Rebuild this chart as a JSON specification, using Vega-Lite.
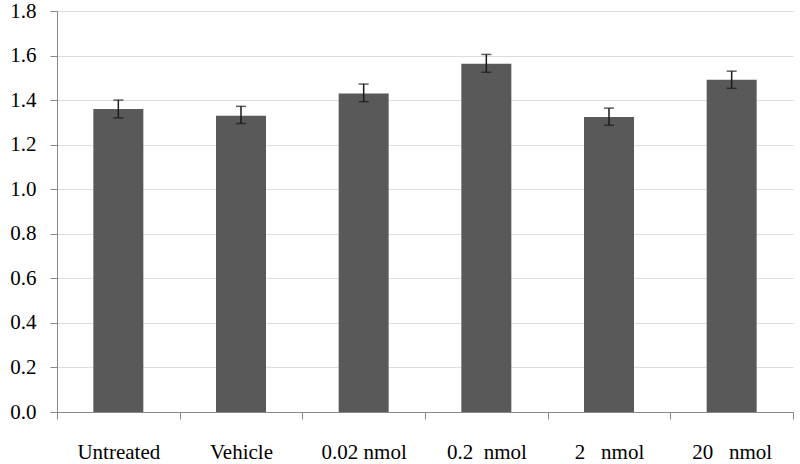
{
  "$schema": "https://vega.github.io/schema/vega-lite/v6.json",
  "autosize": "none",
  "width": 736,
  "height": 401,
  "padding": {"left": 57, "top": 11, "right": 7, "bottom": 52},
  "background": "white",
  "config": {
    "view": {"stroke": null},
    "font": "Liberation Serif",
    "axis": {
      "labelFont": "Liberation Serif",
      "labelFontSize": 21,
      "labelColor": "#000000",
      "domainColor": "#888888",
      "tickColor": "#888888",
      "tickSize": 7,
      "gridColor": "#dddddd",
      "title": null
    },
    "axisY": {"labelPadding": 14},
    "axisX": {"labelPadding": 22}
  },
  "data": {
    "values": [
      {"group": "Untreated", "value": 1.36, "lo": 1.32, "hi": 1.40},
      {"group": "Vehicle", "value": 1.33, "lo": 1.295, "hi": 1.372},
      {"group": "0.02 nmol", "value": 1.43, "lo": 1.393, "hi": 1.472},
      {"group": "0.2\u00a0\u00a0nmol", "value": 1.563, "lo": 1.525, "hi": 1.605},
      {"group": "2\u00a0\u00a0\u00a0nmol", "value": 1.324, "lo": 1.287, "hi": 1.364},
      {"group": "20\u00a0\u00a0\u00a0nmol", "value": 1.491, "lo": 1.453, "hi": 1.53}
    ]
  },
  "encoding": {
    "x": {
      "field": "group",
      "type": "nominal",
      "sort": null,
      "scale": {"paddingInner": 0, "paddingOuter": 0},
      "axis": {"title": null, "labelAngle": 0, "tickBand": "extent"}
    }
  },
  "layer": [
    {
      "mark": {"type": "bar", "color": "#595959", "size": 50},
      "encoding": {
        "y": {
          "field": "value",
          "type": "quantitative",
          "scale": {"domain": [0, 1.8], "nice": false},
          "axis": {
            "title": null,
            "values": [0, 0.2, 0.4, 0.6, 0.8, 1.0, 1.2, 1.4, 1.6, 1.8],
            "format": ".1f"
          }
        }
      }
    },
    {
      "mark": {"type": "rule", "color": "#1a1a1a", "strokeWidth": 1.5},
      "encoding": {
        "y": {"field": "lo", "type": "quantitative"},
        "y2": {"field": "hi"}
      }
    },
    {
      "mark": {"type": "tick", "color": "#1a1a1a", "size": 10, "thickness": 1.5, "orient": "horizontal"},
      "encoding": {
        "y": {"field": "lo", "type": "quantitative"}
      }
    },
    {
      "mark": {"type": "tick", "color": "#1a1a1a", "size": 10, "thickness": 1.5, "orient": "horizontal"},
      "encoding": {
        "y": {"field": "hi", "type": "quantitative"}
      }
    }
  ]
}
